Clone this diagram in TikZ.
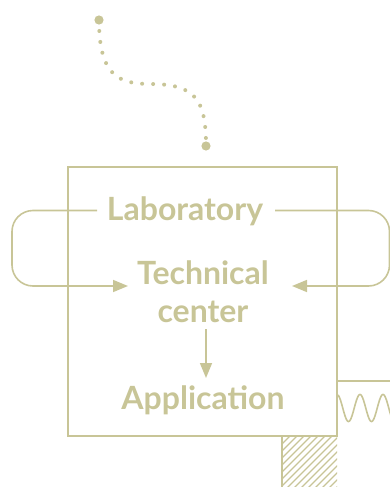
\documentclass[tikz,border=0pt]{standalone}
\usepackage{fontspec}
\setmainfont{Lato}[BoldFont={Lato Bold}]
\usetikzlibrary{arrows.meta,patterns}
\definecolor{olive}{HTML}{C8C597}
\begin{document}
\begin{tikzpicture}[x=1pt,y=-1pt,
  ln/.style={draw=olive,line width=1.6pt},
  lbl/.style={text=olive,font=\bfseries\fontsize{32}{38}\selectfont,align=center,inner sep=0pt},
  arr/.style={ln,-{Triangle[length=15pt,width=12pt]}}]
\useasboundingbox (0,0) rectangle (390,487);
% dotted path
\coordinate (d0) at (99,20);
\coordinate (d1) at (206,146);
\draw[olive,line width=4pt,line cap=round,dash pattern=on 0pt off 11pt]
  (d0) .. controls (99,75) and (118,84) .. (150,84) .. controls (196,84) and (206,100) .. (d1);
\fill[olive] (d0) circle (4.6);
\fill[olive] (d1) circle (4.6);
% main box
\node[ln,minimum width=269pt,minimum height=269pt,inner sep=0pt] (box) at (202.5,301.5) {};
% labels
\node[lbl] (lab) at (185,211.5) {Laboratory};
\node[lbl] (tech) at (203,292) {Technical\\center};
\node[lbl] (app) at (203,400) {Application};
% left loop
\coordinate (ltop) at (97,210.5);
\coordinate (lbot) at (128,286);
\draw[arr,rounded corners=21pt] (ltop) -- (12,210.5) -- (12,286) -- (lbot);
% right loop
\coordinate (rtop) at (275,210.5);
\coordinate (rbot) at (292,286);
\draw[arr,rounded corners=21pt] (rtop) -- (389.5,210.5) -- (389.5,286) -- (rbot);
% down arrow
\coordinate (a0) at (206,329);
\coordinate (a1) at (206,378);
\draw[arr] (a0) -- (a1);
% small box with wave
\draw[ln] (337,381) -- (391,381);
\begin{scope}
\clip (337,381) rectangle (390,436);
\draw[olive,line width=1.6pt,domain=338:392,samples=120,smooth]
  plot (\x,{408-13.5*cos((\x-337)/23*360)});
\end{scope}
% hatched box
\begin{scope}
\clip (282,436) rectangle (337,488);
\foreach \i in {-60,-53,...,60} {
  \draw[olive,line width=1.1pt] (282+\i,490) -- (282+\i+60,430);
}
\end{scope}
\draw[ln] (282,436) -- (282,488);
\end{tikzpicture}
\end{document}
